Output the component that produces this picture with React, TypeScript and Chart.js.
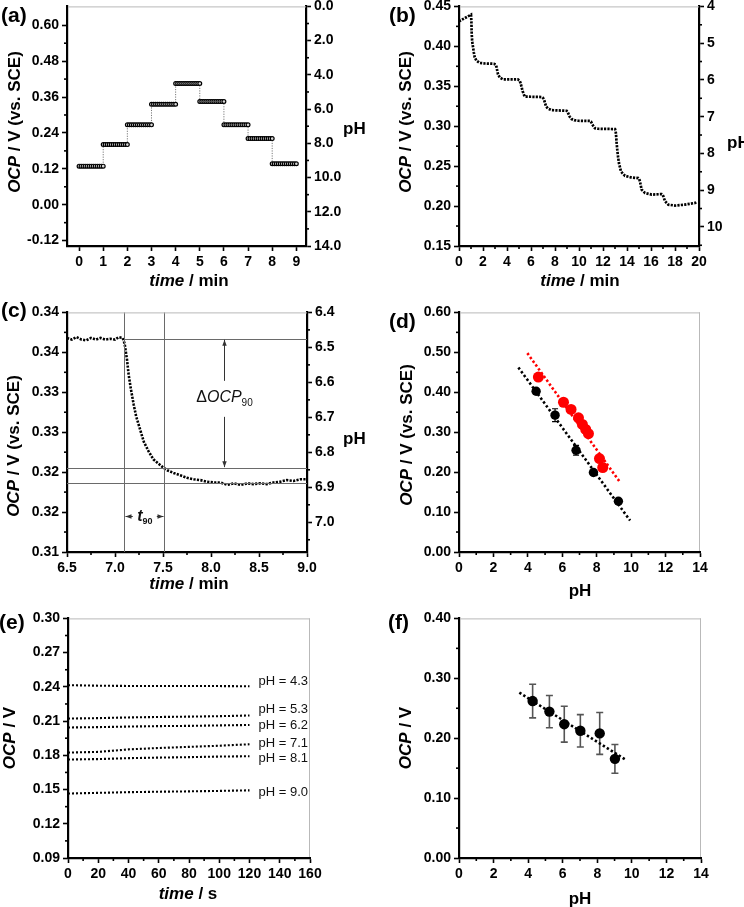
import React, { useEffect, useRef } from 'react';
import Chart from 'chart.js/auto';

const FONT = "'Liberation Sans', Arial, Helvetica, sans-serif";
const YW = 52, RWA = 44, RWP = 16, PT = 10, XH = 28;

// ---------------- (a) step response ----------------
const A_STEP_START = [0, 1, 2, 3, 4, 5, 6, 7, 8];
const A_OCP_LEVELS = [0.129, 0.201, 0.267, 0.336, 0.405, 0.345, 0.267, 0.221, 0.137];
const A_SAMPLE_OFFSETS = [0, 0.083, 0.167, 0.25, 0.333, 0.417, 0.5, 0.583, 0.667, 0.75, 0.833, 0.917, 1.0];
const A_X_TICKS = [0, 1, 2, 3, 4, 5, 6, 7, 8, 9];
const A_X_LABELS = ['0', '1', '2', '3', '4', '5', '6', '7', '8', '9'];
const A_Y_TICKS = [-0.12, 0, 0.12, 0.24, 0.36, 0.48, 0.6];
const A_Y_LABELS = ['-0.12', '0.00', '0.12', '0.24', '0.36', '0.48', '0.60'];
const A_Y_MINOR = [-0.06, 0.06, 0.18, 0.3, 0.42, 0.54];
const A_PH_TICKS = [0, 2, 4, 6, 8, 10, 12, 14];
const A_PH_LABELS = ['0.0', '2.0', '4.0', '6.0', '8.0', '10.0', '12.0', '14.0'];
const A_PH_MINOR = [1, 3, 5, 7, 9, 11, 13];

// ---------------- (b) titration ----------------
const B_TIME = [
  0, 0.5, 1.0, 1.03, 1.06, 1.1, 1.17, 1.24, 1.31, 1.45,
  1.72, 2.2, 2.9, 3.05, 3.12, 3.18, 3.25, 3.4, 3.67, 4.9,
  5.05, 5.12, 5.2, 5.3, 5.47, 6.9, 7.0, 7.08, 7.15, 7.25,
  7.4, 7.72, 8.97, 9.05, 9.12, 9.22, 9.39, 9.6, 9.94, 10.92,
  11.0, 11.07, 11.18, 11.33, 11.6, 13.0, 13.05, 13.08, 13.13, 13.19,
  13.26, 13.33, 13.5, 13.83, 14.3, 14.94, 15.02, 15.08, 15.15, 15.22,
  15.5, 16.06, 16.89, 16.96, 17.03, 17.1, 17.17, 17.44, 18.0, 18.83,
  19.67, 19.8,
];
const B_OCP = [
  0.4313, 0.4355, 0.4396, 0.432, 0.4155, 0.406, 0.3988, 0.392, 0.3863, 0.3821,
  0.3792, 0.3785, 0.3782, 0.3772, 0.3745, 0.37, 0.365, 0.3608, 0.3587, 0.3587,
  0.3572, 0.3545, 0.35, 0.344, 0.3371, 0.3365, 0.3355, 0.3335, 0.33, 0.325,
  0.3222, 0.3201, 0.3193, 0.318, 0.3155, 0.312, 0.3089, 0.3075, 0.3068, 0.3066,
  0.3058, 0.3035, 0.3005, 0.2975, 0.2968, 0.2964, 0.294, 0.2905, 0.28, 0.2703,
  0.261, 0.2537, 0.2432, 0.2379, 0.236, 0.235, 0.2338, 0.2309, 0.2255, 0.2205,
  0.2164, 0.2143, 0.215, 0.2143, 0.2122, 0.209, 0.206, 0.2018, 0.2006, 0.2018,
  0.2039, 0.2048,
];
const B_X_TICKS = [0, 2, 4, 6, 8, 10, 12, 14, 16, 18, 20];
const B_X_LABELS = ['0', '2', '4', '6', '8', '10', '12', '14', '16', '18', '20'];
const B_X_MINOR = [1, 3, 5, 7, 9, 11, 13, 15, 17, 19];
const B_Y_TICKS = [0.15, 0.2, 0.25, 0.3, 0.35, 0.4, 0.45];
const B_Y_LABELS = ['0.15', '0.20', '0.25', '0.30', '0.35', '0.40', '0.45'];
const B_Y_MINOR = [0.175, 0.225, 0.275, 0.325, 0.375, 0.425];
const B_PH_TICKS = [4, 5, 6, 7, 8, 9, 10];
const B_PH_LABELS = ['4', '5', '6', '7', '8', '9', '10'];
const B_PH_MINOR = [4.5, 5.5, 6.5, 7.5, 8.5, 9.5, 10.5];

// ---------------- (c) response time ----------------
const C_TIME = [
  6.5, 6.55, 6.6, 6.65, 6.7, 6.75, 6.8, 6.85, 6.9, 6.95,
  7.0, 7.04, 7.08, 7.1, 7.125, 7.142, 7.167, 7.194, 7.22, 7.25,
  7.3, 7.35, 7.4, 7.45, 7.5, 7.55, 7.61, 7.68, 7.75, 7.82,
  7.89, 7.96, 8.03, 8.1, 8.17, 8.24, 8.31, 8.38, 8.44, 8.51,
  8.58, 8.65, 8.72, 8.79, 8.86, 8.93, 9.0,
];
const C_OCP = [
  0.3368, 0.3366, 0.3369, 0.3366, 0.3365, 0.3368, 0.3366, 0.3368, 0.3366, 0.3367,
  0.3366, 0.3369, 0.3368, 0.3361, 0.3341, 0.3322, 0.3303, 0.3285, 0.327, 0.3258,
  0.3238, 0.3226, 0.3216, 0.3211, 0.3206, 0.3202, 0.3199, 0.3196, 0.3193, 0.3191,
  0.319, 0.3188, 0.3187, 0.3187, 0.3184, 0.3186, 0.3184, 0.3186, 0.3185, 0.3186,
  0.3185, 0.3187, 0.3188, 0.319, 0.3189, 0.3191, 0.3191,
];
const C_MARK_TIMES = [7.09, 7.51];
const C_START_OCP = 0.3367;
const C_T90_OCP = 0.3205;
const C_END_OCP = 0.3187;
const C_ARROW_TIME = 8.14;
const C_DELTA_LABEL_OCP = 0.3293;
const C_T90_LABEL_OCP = 0.3145;
const C_T90_LABEL_TIME = 7.3;
const C_X_TICKS = [6.5, 7.0, 7.5, 8.0, 8.5, 9.0];
const C_X_LABELS = ['6.5', '7.0', '7.5', '8.0', '8.5', '9.0'];
const C_X_MINOR = [6.75, 7.25, 7.75, 8.25, 8.75];
const C_Y_TICKS = [0.31, 0.315, 0.32, 0.325, 0.33, 0.335, 0.34];
const C_Y_LABELS = ['0.31', '0.32', '0.32', '0.33', '0.33', '0.34', '0.34'];
const C_Y_MINOR = [0.3125, 0.3175, 0.3225, 0.3275, 0.3325, 0.3375];
const C_PH_TICKS = [6.4, 6.5, 6.6, 6.7, 6.8, 6.9, 7.0];
const C_PH_LABELS = ['6.4', '6.5', '6.6', '6.7', '6.8', '6.9', '7.0'];
const C_PH_MINOR = [6.45, 6.55, 6.65, 6.75, 6.85, 6.95, 7.05];

// ---------------- (d) calibration ----------------
const D_BLACK_PH = [4.48, 5.58, 6.8, 7.81, 9.26];
const D_BLACK_OCP = [0.4025, 0.3427, 0.2548, 0.1992, 0.127];
const D_BLACK_ERR = [0.006, 0.016, 0.012, 0.005, 0.006];
const D_RED_PH = [4.61, 6.07, 6.51, 6.94, 7.17, 7.36, 7.52, 8.16, 8.35];
const D_RED_OCP = [0.438, 0.375, 0.357, 0.336, 0.3195, 0.307, 0.2963, 0.234, 0.2116];
const D_FIT_BLACK_PH = [3.45, 9.94];
const D_FIT_BLACK_OCP = [0.4622, 0.0788];
const D_FIT_RED_PH = [3.97, 9.36];
const D_FIT_RED_OCP = [0.498, 0.1743];
const PH14_TICKS = [0, 2, 4, 6, 8, 10, 12, 14];
const PH14_LABELS = ['0', '2', '4', '6', '8', '10', '12', '14'];
const PH14_MINOR = [1, 3, 5, 7, 9, 11, 13];
const D_Y_TICKS = [0, 0.1, 0.2, 0.3, 0.4, 0.5, 0.6];
const D_Y_LABELS = ['0.00', '0.10', '0.20', '0.30', '0.40', '0.50', '0.60'];
const D_Y_MINOR = [0.05, 0.15, 0.25, 0.35, 0.45, 0.55];

// ---------------- (e) stability ----------------
const E_TIME = [0, 20, 40, 60, 80, 100, 120];
const E_OCP_43 = [0.2415, 0.241, 0.2408, 0.2408, 0.2408, 0.2407, 0.2405];
const E_OCP_53 = [0.2122, 0.2126, 0.2132, 0.2136, 0.2139, 0.2143, 0.2149];
const E_OCP_62 = [0.2044, 0.2047, 0.2052, 0.2056, 0.2058, 0.2062, 0.2066];
const E_OCP_71 = [0.1824, 0.183, 0.1852, 0.1864, 0.1874, 0.1884, 0.1897];
const E_OCP_81 = [0.1763, 0.1767, 0.1775, 0.178, 0.1784, 0.1789, 0.1792];
const E_OCP_90 = [0.1465, 0.1471, 0.1477, 0.1481, 0.1484, 0.1488, 0.1493];
const E_LABELS = ['pH = 4.3', 'pH = 5.3', 'pH = 6.2', 'pH = 7.1', 'pH = 8.1', 'pH = 9.0'];
const E_LABEL_TIME = 126;
const E_LABEL_OCP = [0.245, 0.2204, 0.2059, 0.1905, 0.1775, 0.1471];
const E_X_TICKS = [0, 20, 40, 60, 80, 100, 120, 140, 160];
const E_X_LABELS = ['0', '20', '40', '60', '80', '100', '120', '140', '160'];
const E_X_MINOR = [10, 30, 50, 70, 90, 110, 130, 150];
const E_Y_TICKS = [0.09, 0.12, 0.15, 0.18, 0.21, 0.24, 0.27, 0.3];
const E_Y_LABELS = ['0.09', '0.12', '0.15', '0.18', '0.21', '0.24', '0.27', '0.30'];
const E_Y_MINOR = [0.105, 0.135, 0.165, 0.195, 0.225, 0.255, 0.285];

// ---------------- (f) calibration with error ----------------
const F_PH = [4.26, 5.23, 6.09, 7.02, 8.14, 9.02];
const F_OCP = [0.262, 0.2444, 0.2234, 0.2124, 0.208, 0.1655];
const F_ERR = [0.028, 0.027, 0.03, 0.027, 0.035, 0.024];
const F_FIT_PH = [3.49, 9.7];
const F_FIT_OCP = [0.276, 0.163];
const F_Y_TICKS = [0, 0.1, 0.2, 0.3, 0.4];
const F_Y_LABELS = ['0.00', '0.10', '0.20', '0.30', '0.40'];
const F_Y_MINOR = [0.05, 0.15, 0.25, 0.35];

// ---------------- helpers ----------------
const xy = (xs: number[], ys: number[]) => xs.map((x, i) => ({ x, y: ys[i] }));

function scaleCfg(ax: any, position: string, size: number, isX: boolean) {
  return {
    type: 'linear',
    display: true,
    position,
    min: ax.min,
    max: ax.max,
    reverse: !!ax.reverse,
    offset: false,
    afterBuildTicks: (s: any) => {
      s.ticks = ax.ticks.map((v: number) => ({ value: v }));
    },
    afterFit: (s: any) => {
      if (isX) s.height = size;
      else s.width = size;
    },
    ticks: {
      autoSkip: false,
      maxRotation: 0,
      minRotation: 0,
      padding: isX ? 3 : 3,
      color: '#000',
      font: { family: FONT, size: 14, weight: 'bold' },
      callback: (v: number) => {
        const i = ax.ticks.findIndex((t: number) => Math.abs(t - v) < 1e-9);
        return i >= 0 ? ax.labels[i] : '';
      },
    },
    grid: { display: true, drawOnChartArea: false, drawTicks: true, tickLength: 5, tickWidth: 1.6, tickColor: '#000' },
    border: { display: true, color: '#000', width: 2.2 },
    title: { display: false },
  };
}

function drawMinor(ctx: any, scale: any, values: number[], side: string, a: any) {
  const lo = Math.min(scale.min, scale.max), hi = Math.max(scale.min, scale.max);
  values.forEach((v) => {
    if (v < lo || v > hi) return;
    const p = scale.getPixelForValue(v);
    ctx.beginPath();
    if (side === 'left') { ctx.moveTo(a.left, p); ctx.lineTo(a.left - 3, p); }
    else if (side === 'right') { ctx.moveTo(a.right, p); ctx.lineTo(a.right + 3, p); }
    else { ctx.moveTo(p, a.bottom); ctx.lineTo(p, a.bottom + 3); }
    ctx.stroke();
  });
}

function drawErrorBars(chart: any, eb: any) {
  const xs = chart.scales.x, ys = chart.scales.y, ctx = chart.ctx;
  ctx.save();
  ctx.strokeStyle = eb.color;
  ctx.lineWidth = eb.width;
  eb.xs.forEach((xv: number, i: number) => {
    const x = xs.getPixelForValue(xv);
    const y1 = ys.getPixelForValue(eb.ys[i] + eb.err[i]);
    const y2 = ys.getPixelForValue(eb.ys[i] - eb.err[i]);
    ctx.beginPath();
    ctx.moveTo(x, y1); ctx.lineTo(x, y2);
    ctx.moveTo(x - eb.cap, y1); ctx.lineTo(x + eb.cap, y1);
    ctx.moveTo(x - eb.cap, y2); ctx.lineTo(x + eb.cap, y2);
    ctx.stroke();
  });
  ctx.restore();
}

function drawParts(ctx: any, parts: any[], cx: number, cy: number) {
  let total = 0;
  parts.forEach((p) => { ctx.font = p.font; total += ctx.measureText(p.text).width; });
  let x = cx - total / 2;
  ctx.textBaseline = 'middle';
  ctx.textAlign = 'left';
  parts.forEach((p) => {
    ctx.font = p.font;
    ctx.fillText(p.text, x, cy + (p.dy || 0));
    x += ctx.measureText(p.text).width;
  });
}

function overlayC(chart: any) {
  const xs = chart.scales.x, ys = chart.scales.y, a = chart.chartArea, ctx = chart.ctx;
  ctx.save();
  ctx.strokeStyle = '#6a6a6a';
  ctx.fillStyle = '#333';
  ctx.lineWidth = 1;
  const seg = (x1: number, y1: number, x2: number, y2: number) => {
    ctx.beginPath(); ctx.moveTo(x1, y1); ctx.lineTo(x2, y2); ctx.stroke();
  };
  const vx = C_MARK_TIMES.map((t) => Math.round(xs.getPixelForValue(t)) + 0.5);
  vx.forEach((x) => seg(x, a.top, x, a.bottom));
  const yStart = Math.round(ys.getPixelForValue(C_START_OCP)) + 0.5;
  seg(vx[0], yStart, a.right, yStart);
  [C_T90_OCP, C_END_OCP].forEach((v) => {
    const y = Math.round(ys.getPixelForValue(v)) + 0.5;
    seg(a.left, y, a.right, y);
  });
  ctx.strokeStyle = '#333';
  const ax = Math.round(xs.getPixelForValue(C_ARROW_TIME)) + 0.5;
  const yT = ys.getPixelForValue(C_START_OCP);
  const yB = ys.getPixelForValue(C_T90_OCP);
  const yL = ys.getPixelForValue(C_DELTA_LABEL_OCP);
  seg(ax, yT + 1, ax, yL - 17);
  seg(ax, yL + 19, ax, yB - 1);
  const head = (x: number, y: number, dx: number, dy: number) => {
    ctx.beginPath();
    ctx.moveTo(x, y);
    ctx.lineTo(x + dx * 6 - dy * 2.2, y + dy * 6 - dx * 2.2);
    ctx.lineTo(x + dx * 6 + dy * 2.2, y + dy * 6 + dx * 2.2);
    ctx.closePath();
    ctx.fill();
  };
  head(ax, yT + 1, 0, 1);
  head(ax, yB - 1, 0, -1);
  ctx.fillStyle = '#111';
  drawParts(ctx, [
    { text: '\u0394', font: `16px ${FONT}` },
    { text: 'OCP', font: `italic 16px ${FONT}` },
    { text: '90', font: `10px ${FONT}`, dy: 5 },
  ], ax, yL);
  ctx.fillStyle = '#333';
  const ty = Math.round(ys.getPixelForValue(C_T90_LABEL_OCP)) + 0.5;
  const tx = xs.getPixelForValue(C_T90_LABEL_TIME);
  seg(vx[0] + 1, ty, tx - 11, ty);
  seg(tx + 13, ty, vx[1] - 1, ty);
  head(vx[0] + 1, ty, 1, 0);
  head(vx[1] - 1, ty, -1, 0);
  ctx.fillStyle = '#111';
  drawParts(ctx, [
    { text: 't', font: `italic bold 16px ${FONT}` },
    { text: '90', font: `bold 9px ${FONT}`, dy: 5 },
  ], tx + 1, ty);
  ctx.restore();
}

function overlayE(chart: any) {
  const xs = chart.scales.x, ys = chart.scales.y, ctx = chart.ctx;
  ctx.save();
  ctx.fillStyle = '#111';
  ctx.font = `13px ${FONT}`;
  ctx.textBaseline = 'middle';
  ctx.textAlign = 'left';
  E_LABELS.forEach((t, i) => {
    ctx.fillText(t, xs.getPixelForValue(E_LABEL_TIME), ys.getPixelForValue(E_LABEL_OCP[i]));
  });
  ctx.restore();
}

// ---------------- datasets ----------------
const aPoints: any[] = [];
A_STEP_START.forEach((s, i) => {
  A_SAMPLE_OFFSETS.forEach((o) => aPoints.push({ x: s + o, y: A_OCP_LEVELS[i] }));
});

const dotted = (data: any[], color: string, width: number, dash: number[]) => ({
  data, showLine: true, borderColor: color, borderWidth: width, borderDash: dash,
  borderCapStyle: 'butt', pointRadius: 0, pointHoverRadius: 0, tension: 0, yAxisID: 'y',
});

const dots = (data: any[], color: string, r: number) => ({
  data, showLine: false, pointRadius: r, pointHoverRadius: r, pointBackgroundColor: color,
  pointBorderColor: color, pointBorderWidth: 0, yAxisID: 'y',
});

const PANELS: any[] = [
  {
    rect: { l: 67, t: 5, r: 306, b: 246 },
    x: { min: -0.5, max: 9.4, ticks: A_X_TICKS, labels: A_X_LABELS, minor: [] },
    y: { min: -0.138, max: 0.663, ticks: A_Y_TICKS, labels: A_Y_LABELS, minor: A_Y_MINOR },
    y2: { min: 0, max: 14, reverse: true, ticks: A_PH_TICKS, labels: A_PH_LABELS, minor: A_PH_MINOR },
    datasets: [{
      data: aPoints, showLine: true, borderColor: '#7a7a7a', borderWidth: 1, borderDash: [1.2, 1.3],
      pointRadius: 1.9, pointHoverRadius: 1.9, pointBorderWidth: 1.2, pointBorderColor: '#000',
      pointBackgroundColor: '#d8d8d8', yAxisID: 'y',
    }],
  },
  {
    rect: { l: 459, t: 5, r: 699, b: 246 },
    x: { min: 0, max: 20, ticks: B_X_TICKS, labels: B_X_LABELS, minor: B_X_MINOR },
    y: { min: 0.15, max: 0.45, ticks: B_Y_TICKS, labels: B_Y_LABELS, minor: B_Y_MINOR },
    y2: { min: 4, max: 10.52, reverse: true, ticks: B_PH_TICKS, labels: B_PH_LABELS, minor: B_PH_MINOR },
    datasets: [dotted(xy(B_TIME, B_OCP), '#000', 2.7, [2.2, 1.2])],
  },
  {
    rect: { l: 67, t: 311, r: 307, b: 552 },
    x: { min: 6.5, max: 9.0, ticks: C_X_TICKS, labels: C_X_LABELS, minor: C_X_MINOR },
    y: { min: 0.31, max: 0.34, ticks: C_Y_TICKS, labels: C_Y_LABELS, minor: C_Y_MINOR },
    y2: { min: 6.4, max: 7.085, reverse: true, ticks: C_PH_TICKS, labels: C_PH_LABELS, minor: C_PH_MINOR },
    datasets: [dotted(xy(C_TIME, C_OCP), '#000', 2.6, [2.2, 1.3])],
    overlay: overlayC,
  },
  {
    rect: { l: 459, t: 311, r: 700, b: 552 },
    x: { min: 0, max: 14, ticks: PH14_TICKS, labels: PH14_LABELS, minor: PH14_MINOR },
    y: { min: 0, max: 0.6, ticks: D_Y_TICKS, labels: D_Y_LABELS, minor: D_Y_MINOR },
    datasets: [
      dots(xy(D_RED_PH, D_RED_OCP), '#ff0000', 5.5),
      dots(xy(D_BLACK_PH, D_BLACK_OCP), '#000', 4.7),
      dotted(xy(D_FIT_RED_PH, D_FIT_RED_OCP), '#ff0000', 2.6, [2.4, 2.3]),
      dotted(xy(D_FIT_BLACK_PH, D_FIT_BLACK_OCP), '#000', 2.6, [2.4, 2.3]),
    ],
    errorBars: [{ xs: D_BLACK_PH, ys: D_BLACK_OCP, err: D_BLACK_ERR, color: '#000', width: 1.2, cap: 3 }],
  },
  {
    rect: { l: 68, t: 617, r: 310, b: 858 },
    x: { min: 0, max: 160, ticks: E_X_TICKS, labels: E_X_LABELS, minor: E_X_MINOR },
    y: { min: 0.09, max: 0.3, ticks: E_Y_TICKS, labels: E_Y_LABELS, minor: E_Y_MINOR },
    datasets: [E_OCP_43, E_OCP_53, E_OCP_62, E_OCP_71, E_OCP_81, E_OCP_90].map((s) =>
      dotted(xy(E_TIME, s), '#000', 2.1, [2.0, 2.0])),
    overlay: overlayE,
  },
  {
    rect: { l: 459, t: 617, r: 701, b: 858 },
    x: { min: 0, max: 14, ticks: PH14_TICKS, labels: PH14_LABELS, minor: PH14_MINOR },
    y: { min: 0, max: 0.4, ticks: F_Y_TICKS, labels: F_Y_LABELS, minor: F_Y_MINOR },
    datasets: [
      dots(xy(F_PH, F_OCP), '#000', 5.2),
      dotted(xy(F_FIT_PH, F_FIT_OCP), '#000', 2.6, [2.4, 2.3]),
    ],
    errorBars: [{ xs: F_PH, ys: F_OCP, err: F_ERR, color: '#555', width: 1.6, cap: 3.5 }],
  },
];

function geom(spec: any) {
  const r = spec.rect;
  return {
    left: r.l - YW,
    top: r.t - PT,
    w: r.r - r.l + YW + (spec.y2 ? RWA : RWP),
    h: r.b - r.t + PT + XH,
  };
}

function makePlugin(spec: any) {
  return {
    id: 'decor',
    beforeDatasetsDraw(chart: any) {
      (spec.errorBars || []).forEach((eb: any) => drawErrorBars(chart, eb));
    },
    afterDatasetsDraw(chart: any) {
      if (spec.overlay) spec.overlay(chart);
    },
    afterDraw(chart: any) {
      const a = chart.chartArea, ctx = chart.ctx;
      ctx.save();
      ctx.strokeStyle = '#b9b9b9';
      ctx.lineWidth = 1;
      ctx.beginPath();
      ctx.moveTo(a.left + 1, a.top + 0.5);
      ctx.lineTo(a.right, a.top + 0.5);
      if (!spec.y2) {
        ctx.moveTo(a.right - 0.5, a.top);
        ctx.lineTo(a.right - 0.5, a.bottom - 1);
      }
      ctx.stroke();
      ctx.strokeStyle = '#000';
      ctx.lineWidth = 1.6;
      drawMinor(ctx, chart.scales.x, spec.x.minor, 'bottom', a);
      drawMinor(ctx, chart.scales.y, spec.y.minor, 'left', a);
      if (spec.y2) drawMinor(ctx, chart.scales.y2, spec.y2.minor, 'right', a);
      ctx.restore();
    },
  };
}

function ChartPanel({ spec }: { spec: any }) {
  const ref = useRef<HTMLCanvasElement>(null);
  const g = geom(spec);
  useEffect(() => {
    const scales: any = {
      x: scaleCfg(spec.x, 'bottom', XH, true),
      y: scaleCfg(spec.y, 'left', YW, false),
    };
    if (spec.y2) scales.y2 = scaleCfg(spec.y2, 'right', RWA, false);
    const chart = new Chart(ref.current as any, {
      type: 'scatter',
      data: { datasets: spec.datasets },
      options: {
        responsive: false,
        maintainAspectRatio: false,
        animation: false,
        devicePixelRatio: 1,
        events: [],
        layout: { padding: { top: PT, left: 0, bottom: 0, right: spec.y2 ? 0 : RWP } },
        plugins: { legend: { display: false }, tooltip: { enabled: false } },
        scales,
      },
      plugins: [makePlugin(spec)],
    } as any);
    return () => chart.destroy();
  }, []);
  return (
    <canvas
      ref={ref}
      width={g.w}
      height={g.h}
      style={{ position: 'absolute', left: g.left, top: g.top, width: g.w, height: g.h }}
    />
  );
}

const baseText: any = {
  position: 'absolute',
  fontFamily: FONT,
  fontWeight: 'bold',
  color: '#000',
  whiteSpace: 'nowrap',
  lineHeight: 1,
};

const LEFT_TITLES = [
  { cx: 14, cy: 122, long: true },
  { cx: 405, cy: 122, long: true },
  { cx: 13, cy: 446, long: true },
  { cx: 406, cy: 435, long: true },
  { cx: 9, cy: 738, long: false },
  { cx: 405, cy: 738, long: false },
];
const X_TITLES = [
  { cx: 189, cy: 280, kind: 'min' },
  { cx: 580, cy: 280, kind: 'min' },
  { cx: 189, cy: 583, kind: 'min' },
  { cx: 580, cy: 590, kind: 'pH' },
  { cx: 188, cy: 893, kind: 's' },
  { cx: 580, cy: 898, kind: 'pH' },
];
const RIGHT_TITLES = [
  { left: 343, cy: 128 },
  { left: 727, cy: 142 },
  { left: 343, cy: 438 },
];
const PANEL_LABELS = [
  { text: '(a)', left: 1, top: 4 },
  { text: '(b)', left: 389, top: 4 },
  { text: '(c)', left: 1, top: 299 },
  { text: '(d)', left: 389, top: 310 },
  { text: '(e)', left: -1, top: 611 },
  { text: '(f)', left: 388, top: 611 },
];

export default function App() {
  return (
    <div style={{ position: 'absolute', left: 0, top: 0, width: 744, height: 907, overflow: 'hidden', background: '#fff' }}>
      {PANELS.map((p, i) => <ChartPanel key={i} spec={p} />)}
      {LEFT_TITLES.map((t, i) => (
        <div key={'lt' + i} style={{ ...baseText, fontSize: 17, left: t.cx, top: t.cy, transform: 'translate(-50%, -50%) rotate(-90deg)' }}>
          <i>OCP</i> / V{t.long ? ' (vs. SCE)' : ''}
        </div>
      ))}
      {X_TITLES.map((t, i) => (
        <div key={'xt' + i} style={{ ...baseText, fontSize: 17, left: t.cx, top: t.cy, transform: 'translate(-50%, -50%)' }}>
          {t.kind === 'pH' ? 'pH' : (<><i>time</i>{t.kind === 'min' ? ' / min' : ' / s'}</>)}
        </div>
      ))}
      {RIGHT_TITLES.map((t, i) => (
        <div key={'rt' + i} style={{ ...baseText, fontSize: 17, left: t.left, top: t.cy, transform: 'translateY(-50%)' }}>pH</div>
      ))}
      {PANEL_LABELS.map((p, i) => (
        <div key={'pl' + i} style={{ ...baseText, fontSize: 21, left: p.left, top: p.top }}>{p.text}</div>
      ))}
    </div>
  );
}
